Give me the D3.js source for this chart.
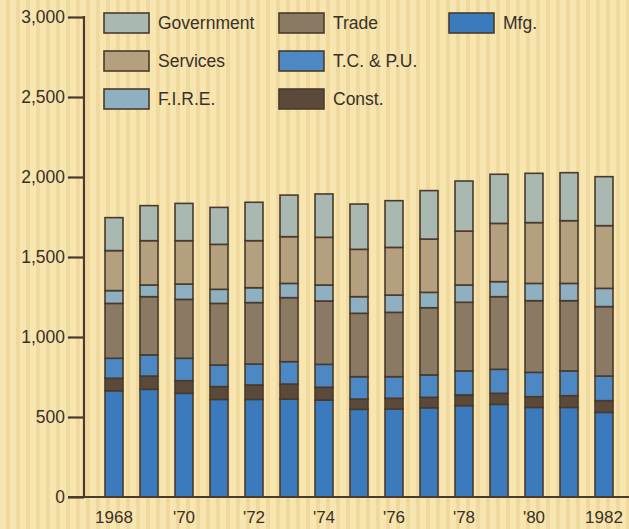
<!DOCTYPE html>
<html>
<head>
<meta charset="utf-8">
<script src="https://cdn.jsdelivr.net/npm/d3@7"></script>
<style>
  html, body { margin: 0; padding: 0; background: #f6e4ac; }
  svg { display: block; }
  text { font-family: "Liberation Sans", Arial, sans-serif; }
</style>
</head>
<body>
<svg id="chart" width="629" height="529"></svg>
<script>
const years = [1968,1969,1970,1971,1972,1973,1974,1975,1976,1977,1978,1979,1980,1981,1982];
const yearLabels = {1968:"1968",1970:"'70",1972:"'72",1974:"'74",1976:"'76",1978:"'78",1980:"'80",1982:"1982"};
const seriesNames = ["Mfg.","Const.","T.C. & P.U.","Trade","F.I.R.E.","Services","Government"];
const mfg        = [664,673,648,610,610,612,606,548,550,558,571,579,560,560,529];
const constr     = [ 78, 83, 79, 80, 90, 94, 80, 64, 67, 65, 67, 69, 67, 73, 73];
const tcpu       = [125,132,140,135,131,140,143,140,135,140,150,150,152,155,154];
const trade      = [343,364,368,385,384,400,396,396,402,420,429,454,448,439,434];
const fire       = [ 80, 73, 96, 88, 93, 89,100,104,108, 96,108, 94,108,108,114];
const services   = [250,277,271,281,294,292,298,296,298,333,337,364,380,392,392];
const government = [206,219,233,231,240,260,271,283,292,303,313,307,308,300,306];
const yTicks = [0,500,1000,1500,2000,2500,3000];

const seriesData = [mfg, constr, tcpu, trade, fire, services, government];
const colors = {
  "Mfg.": "#3b7bbd",
  "Const.": "#5b4a39",
  "T.C. & P.U.": "#4c88c3",
  "Trade": "#8b7a63",
  "F.I.R.E.": "#8fb0c0",
  "Services": "#b49f7f",
  "Government": "#a9b8b0"
};
const strokeCol = "#4a3a2c";
const textCol = "#3a3029";

const rows = years.map((yr, i) => {
  const r = {year: yr};
  seriesNames.forEach((s, k) => r[s] = seriesData[k][i]);
  return r;
});

const svg = d3.select("#chart");

// background stripes
const defs = svg.append("defs");
const pat = defs.append("pattern").attr("id","stripes").attr("patternUnits","userSpaceOnUse")
  .attr("width",10).attr("height",10);
pat.append("rect").attr("width",10).attr("height",10).attr("fill","#f7e6af");
pat.append("rect").attr("x",6).attr("width",4).attr("height",10).attr("fill","#efd99f");
svg.append("rect").attr("width",629).attr("height",529).attr("fill","url(#stripes)");

const x = d3.scaleBand().domain(years).range([96.5, 621.5]).paddingInner(0.486).paddingOuter(0.243);
const y = d3.scaleLinear().domain([0,3000]).range([497,17]);

const stack = d3.stack().keys(seriesNames);
const stacked = stack(rows);

svg.append("g").selectAll("g").data(stacked).join("g")
  .attr("fill", d => colors[d.key])
  .selectAll("rect").data(d => d).join("rect")
  .attr("x", d => x(d.data.year))
  .attr("width", x.bandwidth())
  .attr("y", d => y(d[1]))
  .attr("height", d => y(d[0]) - y(d[1]))
  .attr("stroke", strokeCol)
  .attr("stroke-width", 1.6);

// y axis
const yAxis = svg.append("g").attr("transform","translate(84,0)")
  .call(d3.axisLeft(y).tickValues(yTicks).tickSize(16).tickPadding(3).tickFormat(d3.format(",")));
yAxis.select(".domain").attr("stroke", strokeCol).attr("stroke-width", 2.2).attr("d","M0,16V497");
yAxis.selectAll(".tick line").attr("stroke", strokeCol).attr("stroke-width", 2.2);
yAxis.selectAll(".tick text").attr("fill", textCol).attr("font-size", 17.5)
  .attr("font-family", "'Liberation Sans', Arial, sans-serif");

// baseline
svg.append("line").attr("x1",68).attr("x2",629).attr("y1",y(0)).attr("y2",y(0))
  .attr("stroke", strokeCol).attr("stroke-width", 2.2);

// x axis labels
const xAxis = svg.append("g").attr("transform","translate(0,497)")
  .call(d3.axisBottom(x).tickValues(Object.keys(yearLabels).map(Number)).tickSize(0).tickPadding(14)
    .tickFormat(d => yearLabels[d]));
xAxis.select(".domain").remove();
xAxis.selectAll(".tick text").attr("fill", textCol).attr("font-size", 17)
  .attr("font-family", "'Liberation Sans', Arial, sans-serif");

// legend
const legendItems = [
  {name:"Government", col:0, row:0},
  {name:"Services", col:0, row:1},
  {name:"F.I.R.E.", col:0, row:2},
  {name:"Trade", col:1, row:0},
  {name:"T.C. & P.U.", col:1, row:1},
  {name:"Const.", col:1, row:2},
  {name:"Mfg.", col:2, row:0}
];
const colX = [104, 279, 449];
const rowY = [23, 61, 99];
const lg = svg.append("g").selectAll("g").data(legendItems).join("g")
  .attr("transform", d => `translate(${colX[d.col]},${rowY[d.row]})`);
lg.append("rect").attr("x",0).attr("y",-10).attr("width",45).attr("height",20)
  .attr("fill", d => colors[d.name]).attr("stroke", strokeCol).attr("stroke-width",1.6);
lg.append("text").attr("x",54).attr("y",0).attr("dy","0.35em")
  .attr("fill", textCol).attr("font-size",17.5).text(d => d.name);
</script>
</body>
</html>
